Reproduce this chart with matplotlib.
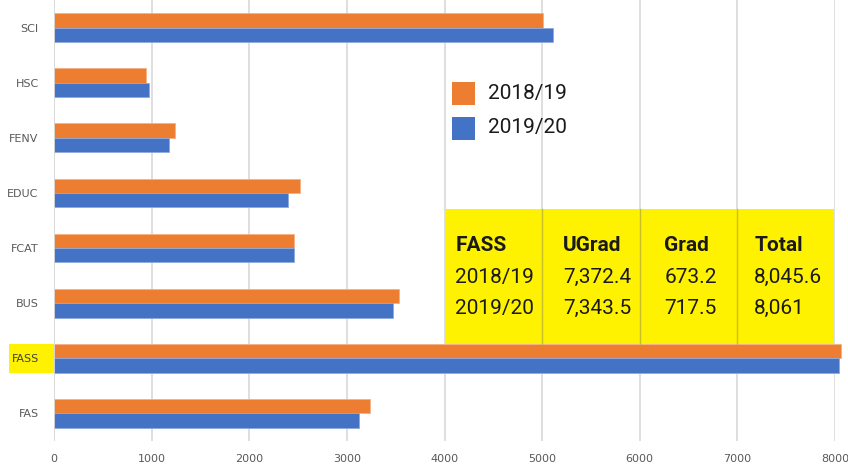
import matplotlib
matplotlib.use("Agg")
import matplotlib.pyplot as plt
from matplotlib.patches import Rectangle

categories = ["SCI", "HSC", "FENV", "EDUC", "FCAT", "BUS", "FASS", "FAS"]
s2018 = [5010, 943, 1240, 2520, 2459, 3535, 8061, 3238]
s2019 = [5113, 973, 1178, 2398, 2459, 3473, 8045.6, 3125]
series_names = ["2018/19", "2019/20"]
xticks = [0, 1000, 2000, 3000, 4000, 5000, 6000, 7000, 8000]

table_header = ["FASS", "UGrad", "Grad", "Total"]
table_rows = [["2018/19", "7,372.4", "673.2", "8,045.6"],
              ["2019/20", "7,343.5", "717.5", "8,061"]]

FONT = "Roboto"
ORANGE = "#ED7D31"
BLUE = "#4472C4"

fig = plt.figure(figsize=(8.48, 4.66), dpi=100)
ax = fig.add_axes([54/848, 1 - 441/466, (835-54)/848, 441/466])

n = len(categories)
ys = list(range(n))
h = 0.26
ax.barh([y - h/2 for y in ys], s2018, height=h, color=ORANGE, clip_on=False, zorder=3,
        edgecolor="#F4B183", linewidth=0.6)
ax.barh([y + h/2 for y in ys], s2019, height=h, color=BLUE, clip_on=False, zorder=3,
        edgecolor="#8FAADC", linewidth=0.6)

ax.set_ylim(n - 0.5, -0.5)
ax.set_xlim(0, 8000)
ax.set_xticks(xticks)
ax.set_yticks(ys)
ax.set_yticklabels(categories)
ax.tick_params(axis="both", length=0, colors="#595959", labelsize=8)
ax.tick_params(axis="x", pad=9)
ax.tick_params(axis="y", pad=11)
for s in ax.spines.values():
    s.set_visible(False)
ax.xaxis.grid(True, color="#D9D9D9", linewidth=1.2, zorder=0)
ax.axvline(0, color="#D9D9D9", linewidth=1.2, zorder=4)
ax.set_axisbelow(True)

# yellow highlight behind FASS tick label
fi = categories.index("FASS")
ax.add_patch(Rectangle((-460, fi - h), 460, 2 * h, facecolor="#FFF200", edgecolor="none",
                       clip_on=False, zorder=0.1))
for lab in ax.get_yticklabels():
    if lab.get_text() == "FASS":
        lab.set_color("#404040")

# table box
bh = 2.44
top = fi - h - bh
ax.add_patch(Rectangle((4000, top), 3990, bh, facecolor="#FFF200", edgecolor="none", zorder=5))
for xv in [5000, 6000, 7000]:
    ax.plot([xv, xv], [top, fi - h], color="#C8BE2A", linewidth=1.0, zorder=6)

col_x = [4109, 5215, 6250, 7172]
row_y = [top + 0.65, top + 1.23, top + 1.79]
for cx, t in zip(col_x, table_header):
    ax.text(cx, row_y[0], t, fontsize=15, fontweight="bold", family=FONT,
            color="#1a1a1a", va="center", ha="left", zorder=7)
for r, row in enumerate(table_rows):
    for cx, t in zip(col_x, row):
        ax.text(cx, row_y[r + 1], t, fontsize=15, family=FONT,
                color="#1a1a1a", va="center", ha="left", zorder=7)

# legend
leg_x0 = 452/848
for i, (nm, col) in enumerate(zip(series_names, [ORANGE, BLUE])):
    yc = 1 - (93 + 35*i)/466
    fig.patches.append(Rectangle((leg_x0, yc - 11.5/466), 23/848, 23/466,
                                 transform=fig.transFigure, facecolor=col, edgecolor="none"))
    fig.text(488/848, yc, nm, fontsize=15, family=FONT, color="#1a1a1a", va="center", ha="left")

fig.savefig("out.png", dpi=100)
